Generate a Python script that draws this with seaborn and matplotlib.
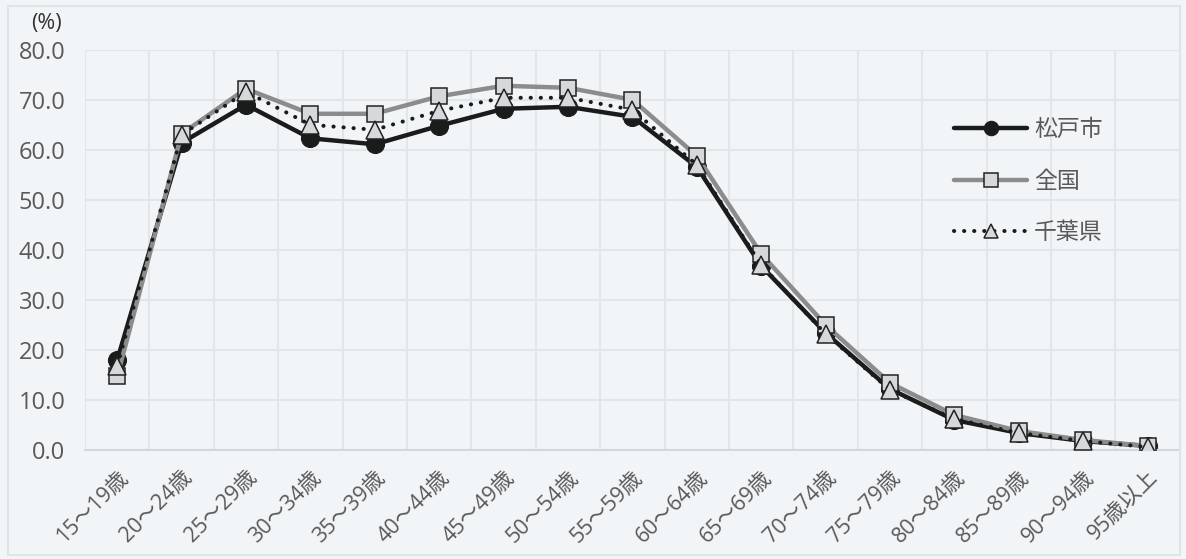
import matplotlib
matplotlib.use("Agg")
import matplotlib.pyplot as plt
import seaborn as sns
import pandas as pd
from matplotlib.patches import Rectangle

# データ
age_groups = ["15～19歳", "20～24歳", "25～29歳", "30～34歳", "35～39歳", "40～44歳",
              "45～49歳", "50～54歳", "55～59歳", "60～64歳", "65～69歳", "70～74歳",
              "75～79歳", "80～84歳", "85～89歳", "90～94歳", "95歳以上"]
matsudo = [18.0, 61.4, 69.0, 62.3, 61.1, 64.8, 68.2, 68.6, 66.6, 56.6, 36.8, 23.4,
           12.2, 6.0, 3.4, 1.8, 0.8]
zenkoku = [14.7, 63.2, 72.2, 67.2, 67.2, 70.7, 72.8, 72.4, 70.0, 58.8, 39.2, 25.0,
           13.4, 7.0, 3.8, 2.0, 0.8]
chiba = [16.8, 63.0, 71.6, 65.0, 64.0, 67.8, 70.4, 70.4, 68.0, 57.0, 37.0, 23.2,
         12.0, 6.2, 3.4, 1.8, 0.6]
series_names = ["松戸市", "全国", "千葉県"]

bg = "#f2f5f7"
grid_c = "#e2e6e9"
text_c = "#595959"

sns.set_theme(style="white")
plt.rcParams["font.family"] = ["Open Sans", "Noto Sans CJK JP", "DejaVu Sans"]

fig = plt.figure(figsize=(11.86, 5.59), dpi=100, facecolor=bg)
ax = fig.add_axes([0.0717, 0.195, 0.923, 0.716])
ax.set_facecolor(bg)

x = list(range(len(age_groups)))
df = pd.DataFrame({"x": x, "松戸市": matsudo, "全国": zenkoku, "千葉県": chiba})

sns.lineplot(data=df, x="x", y="全国", ax=ax, color="#8c8c8c", linewidth=3.2,
             marker="s", markersize=12, markerfacecolor="#d6d9db",
             markeredgecolor="#222222", markeredgewidth=1.1, label="全国", zorder=3)
sns.lineplot(data=df, x="x", y="松戸市", ax=ax, color="#1a1c1c", linewidth=3.2,
             marker="o", markersize=13, markerfacecolor="#1a1c1c",
             markeredgecolor="#1a1c1c", label="松戸市", zorder=2)
sns.lineplot(data=df, x="x", y="千葉県", ax=ax, color="#1a1c1c", linewidth=2.9,
             linestyle=(0, (0.05, 2.45)), dash_capstyle="round",
             marker="^", markersize=13, markerfacecolor="#d6d9db",
             markeredgecolor="#222222", markeredgewidth=1.1, label="千葉県", zorder=4)

ax.set_xlim(-0.5, len(age_groups) - 0.5)
ax.set_ylim(0, 80)
ax.set_yticks(range(0, 81, 10))
ax.set_yticklabels([f"{v:.1f}" for v in range(0, 81, 10)], fontsize=17, color=text_c)
ax.set_xticks(x)
ax.set_xticklabels(age_groups, rotation=45, ha="right", rotation_mode="anchor",
                   fontsize=15.5, color=text_c)
ax.set_xticks([i - 0.5 for i in range(len(age_groups) + 1)], minor=True)
ax.tick_params(axis="both", which="both", length=0)
ax.tick_params(axis="x", pad=12)
ax.tick_params(axis="y", pad=14)
ax.grid(True, axis="y", which="major", color=grid_c, linewidth=1.5)
ax.grid(True, axis="x", which="minor", color=grid_c, linewidth=1.5)
ax.grid(False, axis="x", which="major")
ax.set_axisbelow(True)
for side in ["top", "right", "left"]:
    ax.spines[side].set_visible(False)
ax.spines["bottom"].set_color("#d4d8db")
ax.spines["bottom"].set_linewidth(1.5)
ax.set_xlabel("")
ax.set_ylabel("")

fig.text(0.026, 0.958, "(%)", fontsize=15.5, color="#333333", ha="left", va="center")

handles, labels = ax.get_legend_handles_labels()
order = [labels.index(n) for n in series_names]
leg = ax.legend([handles[i] for i in order], [labels[i] for i in order],
                loc="upper left", bbox_to_anchor=(0.775, 0.88), frameon=False,
                fontsize=16.5, handlelength=3.2, labelspacing=1.2, handletextpad=0.3,
                markerscale=0.8)
for t in leg.get_texts():
    t.set_color(text_c)

fig.patches.append(Rectangle((0.007, 0.007), 0.988, 0.983, transform=fig.transFigure,
                             fill=False, edgecolor="#e0e4e7", linewidth=1.5))

fig.savefig("out.png", dpi=100, facecolor=bg)
